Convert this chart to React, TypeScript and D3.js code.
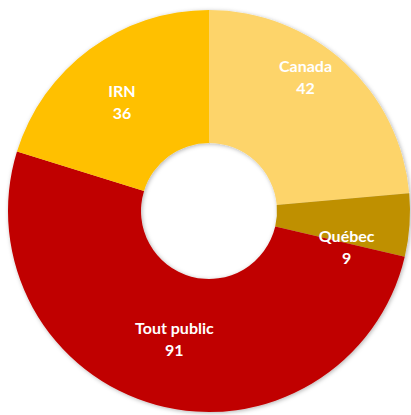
import React from 'react';
import * as d3 from 'd3';

// slices, clockwise from 12 o'clock
const categories = ['Canada', 'Québec', 'Tout public', 'IRN'];
const counts = [42, 9, 91, 36];
const colors = ['#FDD46A', '#BF9000', '#C00000', '#FFC000'];

// manual label nudges (the original labels were dragged a bit)
const labelNudge: [number, number][] = [[2, -30], [-2, 27], [2, -6], [-4, 5]];

const W = 411;
const H = 415;
const cx = 209;
const cy = 211;
const outerR = 201;
const innerR = 68;
const labelR = 140;

type Slice = { name: string; value: number; color: string; i: number };

const App = () => {
    const slices: Slice[] = categories.map((name, i) => ({ name, value: counts[i], color: colors[i], i }));

    const pie = d3.pie<Slice>().value(d => d.value).sort(null);
    const arcs = pie(slices);

    const arc = d3.arc<d3.PieArcDatum<Slice>>().innerRadius(innerR).outerRadius(outerR);
    const labelArc = d3.arc<d3.PieArcDatum<Slice>>().innerRadius(labelR).outerRadius(labelR);

    return (
        <svg width={W} height={H} style={{ position: 'absolute', left: 0, top: 0, background: '#fff' }}>
            <defs>
                <filter id="soft" x="-10%" y="-10%" width="120%" height="120%">
                    <feDropShadow dx="1" dy="1" stdDeviation="2" floodColor="#000" floodOpacity="0.3" />
                </filter>
            </defs>
            <g transform={`translate(${cx},${cy})`}>
                <g filter="url(#soft)">
                    {arcs.map(a => (
                        <path key={a.data.name} d={arc(a) || ''} fill={a.data.color} />
                    ))}
                </g>
                {arcs.map(a => {
                    const [x, y] = labelArc.centroid(a);
                    const [nx, ny] = labelNudge[a.data.i];
                    return (
                        <text
                            key={'l' + a.data.name}
                            x={x + nx}
                            y={y + ny}
                            textAnchor="middle"
                            fill="#fff"
                            fontFamily="Lato, 'Open Sans', sans-serif"
                            fontWeight="bold"
                            fontSize={16}
                        >
                            <tspan x={x + nx} dy={-6}>{a.data.name}</tspan>
                            <tspan x={x + nx} dy={22}>{a.data.value}</tspan>
                        </text>
                    );
                })}
            </g>
        </svg>
    );
};

export default App;
